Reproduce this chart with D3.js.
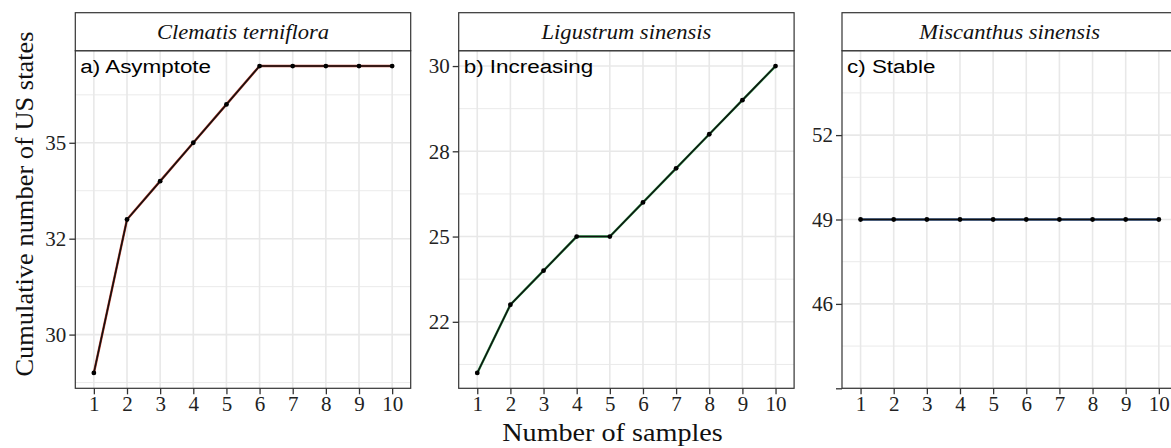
<!DOCTYPE html>
<html>
<head>
<meta charset="utf-8">
<script src="https://cdn.jsdelivr.net/npm/d3@7"></script>
<style>
  html, body { margin: 0; padding: 0; background: #fff; overflow: hidden; }
</style>
</head>
<body>
<div id="chart"></div>
<script>
// data
const samples = [1, 2, 3, 4, 5, 6, 7, 8, 9, 10];
const clematis = [29, 33, 34, 35, 36, 37, 37, 37, 37, 37];
const ligustrum = [21, 23, 24, 25, 25, 26, 27, 28, 29, 30];
const miscanthus = [49, 49, 49, 49, 49, 49, 49, 49, 49, 49];

const species = ["Clematis terniflora", "Ligustrum sinensis", "Miscanthus sinensis"];
const trendLabels = ["a) Asymptote", "b) Increasing", "c) Stable"];

// y breaks per panel (ggplot labels rounded)
const yBreaksA = [30, 32.5, 35], yLabelsA = ["30", "32", "35"];
const yBreaksB = [22.5, 25, 27.5, 30], yLabelsB = ["22", "25", "28", "30"];
const yBreaksC = [43, 46, 49, 52], yLabelsC = ["", "46", "49", "52"];
const yMinorA = [28.75, 31.25, 33.75, 36.25];
const yMinorB = [21.25, 23.75, 26.25, 28.75];
const yMinorC = [44.5, 47.5, 50.5, 53.5];

const panels = [
  { values: clematis, breaks: yBreaksA, labels: yLabelsA, minor: yMinorA, domain: [28.6, 37.4], tint: "#b23a2a" },
  { values: ligustrum, breaks: yBreaksB, labels: yLabelsB, minor: yMinorB, domain: [20.55, 30.45], tint: "#2f9a4c" },
  { values: miscanthus, breaks: yBreaksC, labels: yLabelsC, minor: yMinorC, domain: [43, 55], tint: "#2d4f80" }
];

const width = 1190, height = 448;
const svg = d3.select("#chart").append("svg")
  .attr("width", width).attr("height", height);

const panelLeft = [75.3, 458.7, 842];
const panelW = 335.4;
const stripTop = 12.7, panelTop = 50.7, panelBottom = 388.3;
const serif = "'Liberation Serif', 'Times New Roman', serif";
const sans = "'Liberation Sans', Arial, sans-serif";
const grid = "#e8e8e8", border = "#333";

// stretched text helper (the picture is a bit wider than the fonts)
function stext(g, x, y, str, sx) {
  return g.append("text")
    .attr("transform", `translate(${x},${y}) scale(${sx},1)`)
    .text(str);
}

panels.forEach((p, i) => {
  const x0 = panelLeft[i];
  const g = svg.append("g");
  const x = d3.scaleLinear().domain([0.44, 10.56]).range([x0, x0 + panelW]);
  const y = d3.scaleLinear().domain(p.domain).range([panelBottom, panelTop]);

  // gridlines
  g.selectAll(".minor").data(p.minor).join("line")
    .attr("x1", x0).attr("x2", x0 + panelW)
    .attr("y1", d => y(d)).attr("y2", d => y(d))
    .attr("stroke", grid).attr("stroke-width", 0.9);
  g.selectAll(".major").data(p.breaks).join("line")
    .attr("x1", x0).attr("x2", x0 + panelW)
    .attr("y1", d => y(d)).attr("y2", d => y(d))
    .attr("stroke", grid).attr("stroke-width", 1.6);
  g.selectAll(".vgrid").data(samples).join("line")
    .attr("x1", d => x(d)).attr("x2", d => x(d))
    .attr("y1", panelTop).attr("y2", panelBottom)
    .attr("stroke", grid).attr("stroke-width", 1.6);

  // line + points
  const line = d3.line().x((d, j) => x(samples[j])).y(d => y(d));
  g.append("path").datum(p.values).attr("d", line)
    .attr("fill", "none").attr("stroke", p.tint).attr("stroke-width", 2.4);
  g.append("path").datum(p.values).attr("d", line)
    .attr("fill", "none").attr("stroke", "#111").attr("stroke-width", 1.5);
  g.selectAll(".pt").data(p.values).join("circle")
    .attr("cx", (d, j) => x(samples[j])).attr("cy", d => y(d))
    .attr("r", 2.4).attr("fill", "#000");

  // panel border
  g.append("rect").attr("x", x0).attr("y", panelTop)
    .attr("width", panelW).attr("height", panelBottom - panelTop)
    .attr("fill", "none").attr("stroke", border).attr("stroke-width", 1.2);

  // strip
  g.append("rect").attr("x", x0).attr("y", stripTop)
    .attr("width", panelW).attr("height", panelTop - stripTop)
    .attr("fill", "#fff").attr("stroke", border).attr("stroke-width", 1.2);
  stext(g, x0 + panelW / 2, 38.5, species[i], 1.1)
    .attr("text-anchor", "middle").attr("font-family", serif)
    .attr("font-style", "italic").attr("font-size", 20.5).attr("fill", "#111");

  // trend label
  stext(g, x0 + 5, 73, trendLabels[i], 1.18)
    .attr("font-family", sans).attr("font-size", 19).attr("fill", "#000");

  // axes
  const yAxis = d3.axisLeft(y).tickValues(p.breaks)
    .tickFormat((d, j) => p.labels[j]).tickSize(6).tickPadding(3);
  const ya = g.append("g").attr("transform", `translate(${x0},0)`).call(yAxis);
  const xAxis = d3.axisBottom(x).tickValues(samples).tickSize(6).tickPadding(2);
  const xa = g.append("g").attr("transform", `translate(0,${panelBottom})`).call(xAxis);
  [ya, xa].forEach(a => {
    a.select(".domain").remove();
    a.selectAll(".tick line").attr("stroke", border).attr("stroke-width", 1.3);
    a.selectAll(".tick text").attr("font-family", serif).attr("font-size", 21).attr("fill", "#222");
  });
});

// axis titles
stext(svg, 612.5, 441, "Number of samples", 1.15)
  .attr("text-anchor", "middle").attr("font-family", serif)
  .attr("font-size", 24.5).attr("fill", "#111");
svg.append("text")
  .attr("transform", "translate(33,204) rotate(-90) scale(1.08,1)")
  .attr("text-anchor", "middle").attr("font-family", serif)
  .attr("font-size", 24.5).attr("fill", "#111")
  .text("Cumulative number of US states");
</script>
</body>
</html>
